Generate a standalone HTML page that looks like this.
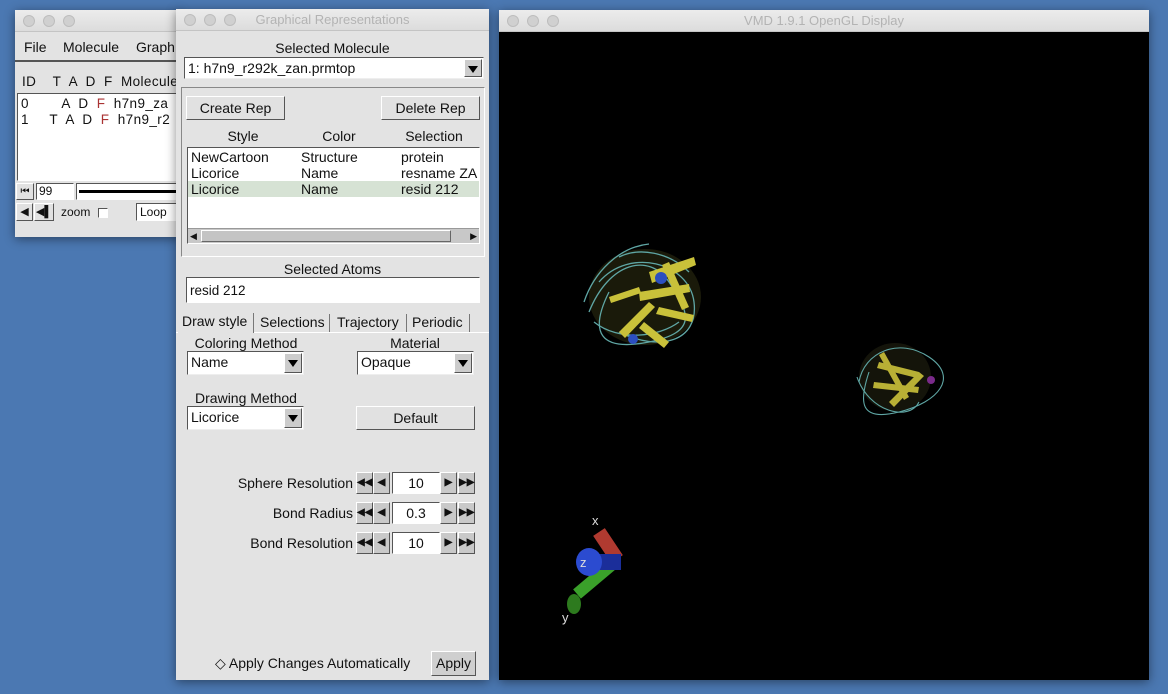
<!DOCTYPE html>
<html><head><meta charset="utf-8"><style>
*{box-sizing:border-box;margin:0;padding:0}
body{width:1168px;height:694px;overflow:hidden;background:#4b78b2;font-family:"Liberation Sans",sans-serif;font-size:14px;color:#111;position:relative}
.a{position:absolute}
.win{position:absolute;background:#e3e3e3;box-shadow:0 2px 10px rgba(0,0,0,.45)}
.title{position:absolute;left:0;right:0;top:0;height:22px;background:linear-gradient(#ececec,#dcdcdc);border-bottom:1px solid #c4c4c4;color:#b3b3b3;font-size:13px;text-align:center;line-height:22px}
.dot{position:absolute;top:5px;width:12px;height:12px;border-radius:50%;background:#d0d0d0;border:1px solid #bdbdbd}
.btn{position:absolute;background:#e1e1e1;border:1px solid;border-color:#fff #555 #555 #fff;text-align:center}
.field{position:absolute;background:#fff;border:1px solid;border-color:#555 #fff #fff #555}
.dd{position:absolute;background:#fff;border:1px solid;border-color:#555 #eee #eee #555;padding-left:3px;line-height:20px}
.dd b{position:absolute;right:1px;top:1px;bottom:1px;width:18px;background:#ccc;border:1px solid;border-color:#fff #555 #555 #fff}
.dd b:after{content:"";position:absolute;left:3px;top:6px;border-left:5px solid transparent;border-right:5px solid transparent;border-top:7px solid #000}
.c{text-align:center}
.sb{position:absolute;width:17px;height:22px;background:#c9c9c9;border:1px solid;border-color:#fff #555 #555 #fff;font-size:10px;text-align:center;line-height:20px;font-weight:bold}
</style></head><body>

<div class="win" style="left:15px;top:10px;width:166px;height:227px">
 <div class="title"></div>
 <div class="dot" style="left:8px"></div><div class="dot" style="left:28px"></div><div class="dot" style="left:48px"></div>
 <div class="a" style="left:9px;top:29px">File</div>
 <div class="a" style="left:48px;top:29px">Molecule</div>
 <div class="a" style="left:121px;top:29px">Graph</div>
 <div class="a" style="left:0;right:0;top:50px;border-top:2px solid #555"></div>
 <div class="a" style="left:7px;top:64px;white-space:pre;font-size:13.5px;letter-spacing:0.4px">ID    T  A  D  F  Molecule</div>
 <div class="field" style="left:2px;top:83px;width:164px;height:88px;font-size:13.5px;white-space:pre;padding:2px 3px;line-height:16px;letter-spacing:0.4px">0        A  D  <span style="color:#a33">F</span>  h7n9_za
1     T  A  D  <span style="color:#a33">F</span>  h7n9_r2</div>
 <div class="btn" style="left:1px;top:173px;width:18px;height:17px;font-size:10px;line-height:15px">⏮</div>
 <div class="field" style="left:21px;top:173px;width:38px;height:17px;font-size:12px;line-height:15px;padding-left:2px">99</div>
 <div class="field" style="left:61px;top:173px;width:105px;height:17px"><div class="a" style="left:2px;right:0;top:6px;border-top:3px solid #000"></div></div>
 <div class="btn" style="left:1px;top:193px;width:17px;height:18px;font-size:11px;line-height:16px">◀</div>
 <div class="btn" style="left:19px;top:193px;width:20px;height:18px;font-size:11px;line-height:16px">◀▌</div>
 <div class="a" style="left:46px;top:195px;font-size:12px">zoom</div>
 <div class="field" style="left:83px;top:198px;width:10px;height:10px"></div>
 <div class="field" style="left:121px;top:193px;width:45px;height:18px;font-size:12px;padding-left:3px;line-height:16px">Loop</div>
</div>

<div class="win" style="left:176px;top:9px;width:313px;height:671px">
 <div class="title">Graphical Representations</div>
 <div class="dot" style="left:8px"></div><div class="dot" style="left:28px"></div><div class="dot" style="left:48px"></div>
 <div class="a c" style="left:0;width:313px;top:31px">Selected Molecule</div>
 <div class="dd" style="left:8px;top:48px;width:300px;height:22px">1: h7n9_r292k_zan.prmtop<b></b></div>
 <div class="a" style="left:5px;top:78px;width:304px;height:170px;border:1px solid;border-color:#888 #fff #fff #888"></div>
 <div class="btn" style="left:10px;top:87px;width:99px;height:24px;line-height:22px">Create Rep</div>
 <div class="btn" style="left:205px;top:87px;width:99px;height:24px;line-height:22px">Delete Rep</div>
 <div class="a c" style="left:37px;width:60px;top:119px">Style</div>
 <div class="a c" style="left:133px;width:60px;top:119px">Color</div>
 <div class="a c" style="left:223px;width:70px;top:119px">Selection</div>
 <div class="field" style="left:11px;top:138px;width:293px;height:97px;overflow:hidden">
  <div class="a" style="left:0;right:0;top:33px;height:16px;background:#d6e2d4"></div>
  <div class="a" style="left:3px;top:1px;line-height:16px">NewCartoon<br>Licorice<br>Licorice</div>
  <div class="a" style="left:113px;top:1px;line-height:16px">Structure<br>Name<br>Name</div>
  <div class="a" style="left:213px;top:1px;line-height:16px;white-space:nowrap">protein<br>resname ZA<br>resid 212</div>
  <div class="a" style="left:0;right:0;bottom:0;height:15px;background:#c8c8c8;border-top:1px solid #999">
   <div class="a" style="left:2px;top:2px;font-size:9px">◀</div><div class="a" style="right:2px;top:2px;font-size:9px">▶</div>
   <div class="a" style="left:13px;width:250px;top:1px;height:12px;background:#c4c4c4;border:1px solid;border-color:#fff #666 #666 #fff"></div>
  </div>
 </div>
 <div class="a c" style="left:0;width:313px;top:252px">Selected Atoms</div>
 <div class="field" style="left:10px;top:268px;width:294px;height:26px;padding:5px 3px;font-size:13.5px">resid 212</div>
 <div class="a" style="left:0;right:0;top:323px;border-top:1px solid #fff"></div>
 <div class="a" style="left:2px;top:304px;width:76px;height:20px;background:#e3e3e3;border-right:1px solid #777;padding-left:4px">Draw style</div>
 <div class="a" style="left:80px;top:305px;width:74px;height:18px;border-right:1px solid #777;padding-left:4px">Selections</div>
 <div class="a" style="left:156px;top:305px;width:75px;height:18px;border-right:1px solid #777;padding-left:5px">Trajectory</div>
 <div class="a" style="left:233px;top:305px;width:61px;height:18px;border-right:1px solid #777;padding-left:3px">Periodic</div>
 <div class="a c" style="left:11px;width:118px;top:326px">Coloring Method</div>
 <div class="dd" style="left:11px;top:342px;width:117px;height:24px">Name<b></b></div>
 <div class="a c" style="left:180px;width:118px;top:326px">Material</div>
 <div class="dd" style="left:181px;top:342px;width:117px;height:24px">Opaque<b></b></div>
 <div class="a c" style="left:11px;width:118px;top:381px">Drawing Method</div>
 <div class="dd" style="left:11px;top:397px;width:117px;height:24px">Licorice<b></b></div>
 <div class="btn" style="left:180px;top:397px;width:119px;height:24px;line-height:22px">Default</div>

 <div class="a" style="right:136px;top:466px">Sphere Resolution</div>
 <div class="sb" style="left:180px;top:463px">◀◀</div>
 <div class="sb" style="left:197px;top:463px">◀</div>
 <div class="field c" style="left:216px;top:463px;width:48px;height:22px;line-height:20px">10</div>
 <div class="sb" style="left:264px;top:463px">▶</div>
 <div class="sb" style="left:282px;top:463px">▶▶</div>

 <div class="a" style="right:136px;top:496px">Bond Radius</div>
 <div class="sb" style="left:180px;top:493px">◀◀</div>
 <div class="sb" style="left:197px;top:493px">◀</div>
 <div class="field c" style="left:216px;top:493px;width:48px;height:22px;line-height:20px">0.3</div>
 <div class="sb" style="left:264px;top:493px">▶</div>
 <div class="sb" style="left:282px;top:493px">▶▶</div>

 <div class="a" style="right:136px;top:526px">Bond Resolution</div>
 <div class="sb" style="left:180px;top:523px">◀◀</div>
 <div class="sb" style="left:197px;top:523px">◀</div>
 <div class="field c" style="left:216px;top:523px;width:48px;height:22px;line-height:20px">10</div>
 <div class="sb" style="left:264px;top:523px">▶</div>
 <div class="sb" style="left:282px;top:523px">▶▶</div>

 <div class="a" style="left:39px;top:646px">◇ Apply Changes Automatically</div>
 <div class="btn" style="left:255px;top:642px;width:45px;height:25px;line-height:23px;background:#cfcfcf">Apply</div>
</div>

<div class="win" style="left:499px;top:10px;width:650px;height:670px;background:#000">
 <div class="title">VMD 1.9.1 OpenGL Display</div>
 <div class="dot" style="left:8px"></div><div class="dot" style="left:28px"></div><div class="dot" style="left:48px"></div>
 <svg class="a" style="left:0;top:22px" width="650" height="648">
  <g>
   <ellipse cx="146" cy="265" rx="56" ry="48" fill="#1a1a0a"/>
   <g stroke="#5fa6a4" stroke-width="1.3" fill="none">
    <path d="M90 280 C110 230 150 220 170 250 S200 300 150 310 S90 300 110 260"/>
    <path d="M100 250 C130 215 190 230 195 270 S160 320 120 300"/>
    <path d="M95 290 C120 310 160 305 180 290"/>
    <path d="M120 225 C140 215 170 220 190 240"/>
    <path d="M85 270 C95 240 120 215 150 212"/>
   </g>
   <g fill="#c9c13a">
    <path d="M150 240 l45 -15 l2 8 l-44 18z"/><path d="M140 260 l50 -8 l1 8 l-50 9z"/>
    <path d="M160 275 l35 8 l-2 7 l-36 -8z"/><path d="M120 300 l30 -30 l6 5 l-30 31z"/>
    <path d="M170 230 l20 45 l-7 3 l-20 -45z"/><path d="M145 290 l25 20 l-5 6 l-25 -20z"/>
    <path d="M110 265 l30 -10 l2 6 l-30 10z"/>
   </g>
   <circle cx="162" cy="246" r="6" fill="#2c4fc0"/><circle cx="134" cy="307" r="5" fill="#2c4fc0"/>
  </g>
  <g>
   <ellipse cx="396" cy="345" rx="36" ry="34" fill="#14140a"/>
   <g stroke="#5fa6a4" stroke-width="1.1" fill="none">
    <path d="M360 350 C365 320 400 305 430 325 S440 370 400 380 S360 370 370 340"/>
    <path d="M358 345 C370 380 410 390 420 370"/>
   </g>
   <g fill="#b8b035">
    <path d="M380 330 l40 10 l-2 6 l-40 -10z"/><path d="M375 350 l45 5 l-1 6 l-45 -5z"/>
    <path d="M390 370 l30 -30 l5 4 l-30 31z"/><path d="M385 320 l25 45 l-5 3 l-25 -45z"/>
   </g>
   <circle cx="432" cy="348" r="4" fill="#7a2a8a"/>
  </g>
  <g>
   <line x1="100" y1="500" x2="118" y2="527" stroke="#b03a30" stroke-width="14"/>
   <line x1="78" y1="562" x2="116" y2="530" stroke="#3aa02a" stroke-width="12"/>
   <ellipse cx="75" cy="572" rx="7" ry="10" fill="#2d7a1e"/>
   <line x1="90" y1="530" x2="122" y2="530" stroke="#1b2e9a" stroke-width="16"/>
   <ellipse cx="90" cy="530" rx="13" ry="14" fill="#2b4bd0"/>
   <text x="93" y="493" fill="#ddd" font-size="13" font-family="Liberation Sans">x</text>
   <text x="81" y="535" fill="#ddd" font-size="13" font-family="Liberation Sans">z</text>
   <text x="63" y="590" fill="#ddd" font-size="13" font-family="Liberation Sans">y</text>
  </g>
 </svg>
</div>
</body></html>
